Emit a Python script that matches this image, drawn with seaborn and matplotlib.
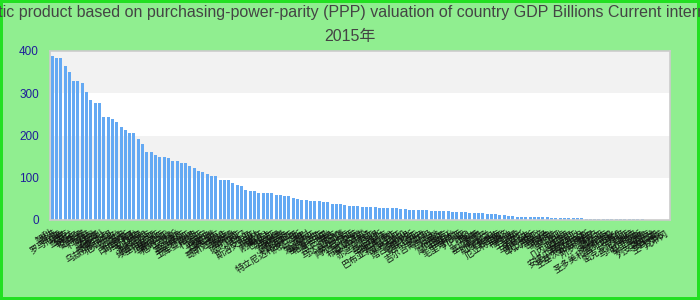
import matplotlib
matplotlib.use("Agg")
import matplotlib.pyplot as plt
import seaborn as sns
import pandas as pd

# ---------------- data ----------------
countries = [
    "智利", "香港", "罗马尼亚", "秘鲁", "捷克", "乌克兰", "卡塔尔", "葡萄牙", "希腊", "科威特",
    "缅甸", "摩洛哥", "匈牙利", "斯里兰卡", "乌兹别克斯坦", "厄瓜多尔", "安哥拉", "苏丹", "白俄罗斯", "阿塞拜疆",
    "新西兰", "阿曼", "多米尼加", "斯洛伐克", "埃塞俄比亚", "肯尼亚", "坦桑尼亚", "保加利亚", "危地马拉", "突尼斯",
    "加纳", "塞尔维亚", "克罗地亚", "土库曼斯坦", "约旦", "利比亚", "立陶宛", "巴拿马", "黎巴嫩", "科特迪瓦",
    "哥斯达黎加", "乌拉圭", "喀麦隆", "乌干达", "玻利维亚", "也门", "尼泊尔", "斯洛文尼亚", "巴林", "阿富汗",
    "刚果(金)", "巴拉圭", "赞比亚", "卢森堡", "柬埔寨", "萨尔瓦多", "拉脱维亚", "特立尼达和多巴哥", "洪都拉斯", "波黑",
    "老挝", "爱沙尼亚", "塞内加尔", "格鲁吉亚", "马里", "博茨瓦纳", "蒙古", "马达加斯加", "加蓬", "莫桑比克",
    "阿尔巴尼亚", "文莱", "尼加拉瓜", "布基纳法索", "马其顿", "赤道几内亚", "乍得", "塞浦路斯", "津巴布韦", "刚果(布)",
    "巴布亚新几内亚", "亚美尼亚", "牙买加", "塔吉克斯坦", "毛里求斯", "纳米比亚", "贝宁", "马拉维", "吉尔吉斯斯坦", "卢旺达",
    "海地", "尼日尔", "摩尔多瓦", "科索沃", "马耳他", "毛里塔尼亚", "几内亚", "冰岛", "黑山", "多哥",
    "塞拉利昂", "南苏丹", "斯威士兰", "巴哈马", "苏里南", "厄立特里亚", "斐济", "布隆迪", "圭亚那", "不丹",
    "莱索托", "马尔代夫", "巴巴多斯", "利比里亚", "东帝汶", "吉布提", "佛得角", "伯利兹", "冈比亚", "中非",
    "几内亚比绍", "塞舌尔", "圣卢西亚", "安提瓜和巴布达", "格林纳达", "圣基茨和尼维斯", "科摩罗", "所罗门群岛", "萨摩亚", "多米尼克",
    "瓦努阿图", "圣多美和普林西比", "汤加", "安道尔", "密克罗尼西亚", "帕劳", "马绍尔群岛", "基里巴斯", "瑙鲁", "图瓦卢",
    "列支敦士登", "摩纳哥", "圣马力诺", "梵蒂冈",
]

gdp_ppp = [
    387, 384, 384, 365, 351, 330, 328, 325, 304, 283,
    276, 276, 243, 243, 240, 233, 219, 214, 207, 207,
    191, 179, 162, 160, 153, 148, 148, 146, 139, 139,
    136, 134, 127, 122, 117, 113, 108, 103, 103, 94,
    94, 94, 87, 84, 80, 70, 68, 68, 63, 63,
    63, 63, 58, 58, 56, 56, 51, 49, 47, 47,
    44, 44, 44, 42, 42, 39, 39, 39, 35, 32,
    32, 32, 30, 30, 30, 30, 28, 28, 28, 28,
    28, 25, 25, 23, 23, 23, 23, 23, 20.5, 20.5,
    20.5, 20.5, 20.5, 18, 18, 18, 18, 16, 16, 16,
    16, 13.4, 13.4, 13.4, 11, 11, 8.7, 8.7, 6.3, 6.3,
    6.3, 6.3, 6.3, 6.3, 6.3, 6.3, 3.9, 3.9, 3.9, 3.9,
    3.9, 3.9, 3.9, 3.9, 1.6, 1.6, 1.6, 1.6, 1.6, 1.6,
    1.6, 1.6, 1.6, 1.6, 1.6, 1.6, 1.6, 1.6, 0.4, 0.3,
    0.3, 0.2, 0.1, 0.05,
]

title_line1 = ("Gross domestic product based on purchasing-power-parity (PPP) valuation "
               "of country GDP Billions Current international dollar")
title_line2 = "2015年"
y_ticks = [0, 100, 200, 300, 400]

n = min(len(countries), len(gdp_ppp))
df = pd.DataFrame({"country": countries[:n], "gdp": gdp_ppp[:n]})

# ---------------- style ----------------
plt.rcParams["font.family"] = ["Liberation Sans", "Noto Sans CJK SC", "DejaVu Sans"]

fig = plt.figure(figsize=(7, 3), dpi=100)
fig.patch.set_facecolor("#90ee90")
fig.patch.set_edgecolor("#22e022")
fig.patch.set_linewidth(3)

ax = fig.add_axes([50 / 700, 80 / 300, 620 / 700, 169 / 300])
ax.set_facecolor("white")
for lo, hi in [(100, 200), (300, 400)]:
    ax.axhspan(lo, hi, color="#f2f2f2", lw=0, zorder=0)

sns.barplot(data=df, x="country", y="gdp", color="#64a9f3", saturation=1,
            width=0.7, ax=ax, zorder=2)

ax.set_xlim(-0.5, n - 0.5)
ax.set_ylim(0, 400)
ax.set_yticks(y_ticks)
ax.set_xlabel("")
ax.set_ylabel("")

for s in ax.spines.values():
    s.set_color("#cccccc")
    s.set_linewidth(1.2)

ax.tick_params(axis="y", length=0, pad=8, labelsize=8.5, labelcolor="#1f1f9a")
ax.tick_params(axis="x", length=0, pad=9, labelsize=6.5, labelcolor="#111111")
for lab in ax.get_xticklabels():
    lab.set_rotation(32)
    lab.set_ha("right")
    lab.set_va("center")
    lab.set_rotation_mode("anchor")

fig.text(0.5, 1 - 13 / 300, title_line1, ha="center", va="center",
         fontsize=11.5, color="#444444")
fig.text(0.5, 1 - 37 / 300, title_line2, ha="center", va="center",
         fontsize=11.5, color="#444444")

fig.savefig("out.png", dpi=100, facecolor=fig.get_facecolor(),
            edgecolor=fig.get_edgecolor())
